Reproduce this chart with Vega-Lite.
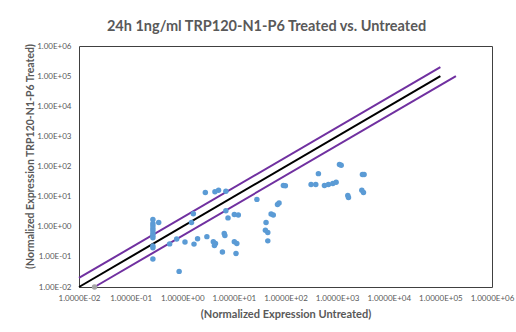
{
  "$schema": "https://vega.github.io/schema/vega-lite/v6.json",
  "autosize": "none",
  "width": 413,
  "height": 241,
  "padding": {"left": 79, "top": 46, "right": 24, "bottom": 45},
  "background": "white",
  "config": {
    "view": {"stroke": "#404040", "strokeWidth": 1},
    "font": "Lato"
  },
  "title": {
    "text": "24h 1ng/ml TRP120-N1-P6 Treated vs. Untreated",
    "font": "Lato",
    "fontSize": 14.5,
    "fontWeight": "bold",
    "color": "#595959",
    "anchor": "middle",
    "frame": "group",
    "baseline": "alphabetic",
    "dx": -19,
    "offset": -3
  },
  "datasets": {
    "points": [
      {"x": 0.27, "y": 1.75}, {"x": 0.27, "y": 1.29}, {"x": 0.27, "y": 1.07}, {"x": 0.27, "y": 0.88},
      {"x": 0.27, "y": 0.73}, {"x": 0.27, "y": 0.60}, {"x": 0.27, "y": 0.50}, {"x": 0.27, "y": 0.43},
      {"x": 0.27, "y": 0.23}, {"x": 0.27, "y": 0.20}, {"x": 0.27, "y": 0.085},
      {"x": 0.35, "y": 1.39}, {"x": 0.57, "y": 0.27}, {"x": 0.78, "y": 0.39}, {"x": 0.87, "y": 0.033},
      {"x": 1.13, "y": 0.31}, {"x": 1.51, "y": 1.39}, {"x": 1.64, "y": 2.72}, {"x": 1.69, "y": 0.265},
      {"x": 1.98, "y": 0.40}, {"x": 2.8, "y": 13.7}, {"x": 3.0, "y": 0.47}, {"x": 4.0, "y": 0.32},
      {"x": 4.4, "y": 0.28}, {"x": 4.2, "y": 0.24}, {"x": 4.3, "y": 14.5}, {"x": 5.05, "y": 16.3},
      {"x": 6.0, "y": 0.144}, {"x": 6.5, "y": 0.60}, {"x": 6.7, "y": 0.51}, {"x": 7.0, "y": 3.4},
      {"x": 7.0, "y": 15.1}, {"x": 7.7, "y": 1.97}, {"x": 10.2, "y": 2.57}, {"x": 12.2, "y": 2.46},
      {"x": 10.2, "y": 0.32}, {"x": 11.4, "y": 0.28}, {"x": 11.0, "y": 0.13}, {"x": 27.9, "y": 8.1},
      {"x": 42, "y": 1.39}, {"x": 40.8, "y": 0.77}, {"x": 45.4, "y": 0.64}, {"x": 45.4, "y": 0.34},
      {"x": 52.6, "y": 2.65}, {"x": 58, "y": 2.46}, {"x": 70, "y": 5.5}, {"x": 75, "y": 6.2},
      {"x": 91, "y": 23.3}, {"x": 99.5, "y": 23.0}, {"x": 313, "y": 25.2}, {"x": 386, "y": 25.2},
      {"x": 434, "y": 58}, {"x": 568, "y": 23.3}, {"x": 678, "y": 25.2}, {"x": 826, "y": 27.2},
      {"x": 957, "y": 30}, {"x": 1110, "y": 116}, {"x": 1200, "y": 110}, {"x": 1610, "y": 10.9},
      {"x": 1660, "y": 9.3}, {"x": 3090, "y": 54}, {"x": 3330, "y": 54}, {"x": 3010, "y": 16.3},
      {"x": 3240, "y": 13.7}
    ],
    "lines": [
      {"s": "equal", "x": 0.01, "y": 0.01}, {"s": "equal", "x": 100000, "y": 100000},
      {"s": "upper", "x": 0.01, "y": 0.02}, {"s": "upper", "x": 100000, "y": 200000},
      {"s": "lower", "x": 0.02, "y": 0.01}, {"s": "lower", "x": 200000, "y": 100000}
    ],
    "origin": [{"x": 0.02, "y": 0.01}]
  },
  "layer": [
    {
      "data": {"name": "lines"},
      "mark": {"type": "line", "strokeWidth": 2, "clip": false},
      "encoding": {
        "x": {
          "field": "x", "type": "quantitative",
          "scale": {"type": "log", "domain": [0.01, 1000000], "nice": false},
          "axis": {
            "values": [0.01, 0.1, 1, 10, 100, 1000, 10000, 100000, 1000000],
            "labelExpr": "'1.0000E' + (round(log(datum.value)/LN10) < 0 ? '-' : '+') + (abs(round(log(datum.value)/LN10)) < 10 ? '0' : '') + abs(round(log(datum.value)/LN10))",
            "title": "(Normalized Expression Untreated)",
            "titleFont": "Lato", "titleFontSize": 11, "titleFontWeight": "bold", "titleColor": "#595959",
            "titleBaseline": "middle", "titleY": 27,
            "labelFont": "Lato", "labelFontSize": 8, "labelColor": "#595959", "labelPadding": 7,
            "ticks": false, "domain": false, "grid": false, "labelFlush": false, "labelOverlap": false
          }
        },
        "y": {
          "field": "y", "type": "quantitative",
          "scale": {"type": "log", "domain": [0.01, 1000000], "nice": false},
          "axis": {
            "values": [0.01, 0.1, 1, 10, 100, 1000, 10000, 100000, 1000000],
            "labelExpr": "'1.00E' + (round(log(datum.value)/LN10) < 0 ? '-' : '+') + (abs(round(log(datum.value)/LN10)) < 10 ? '0' : '') + abs(round(log(datum.value)/LN10))",
            "title": "(Normalized Expression TRP120-N1-P6 Treated)",
            "titleFont": "Lato", "titleFontSize": 10.5, "titleFontWeight": "bold", "titleColor": "#595959",
            "titleBaseline": "middle", "titleAlign": "center", "titleX": -49, "titleY": 110, "titleAngle": 270,
            "labelFont": "Lato", "labelFontSize": 8, "labelColor": "#595959", "labelPadding": 8,
            "ticks": false, "domain": false, "grid": false, "labelFlush": false, "labelOverlap": false
          }
        },
        "detail": {"field": "s"},
        "color": {
          "field": "s", "type": "nominal",
          "scale": {"domain": ["equal", "upper", "lower"], "range": ["#000000", "#7030a0", "#7030a0"]},
          "legend": null
        }
      }
    },
    {
      "data": {"name": "points"},
      "mark": {"type": "circle", "size": 30, "color": "#5b9bd5", "opacity": 1},
      "encoding": {
        "x": {"field": "x", "type": "quantitative"},
        "y": {"field": "y", "type": "quantitative"}
      }
    },
    {
      "data": {"name": "origin"},
      "mark": {"type": "circle", "size": 30, "color": "#a5a5a5", "opacity": 1, "clip": false},
      "encoding": {
        "x": {"field": "x", "type": "quantitative"},
        "y": {"field": "y", "type": "quantitative"}
      }
    }
  ]
}
